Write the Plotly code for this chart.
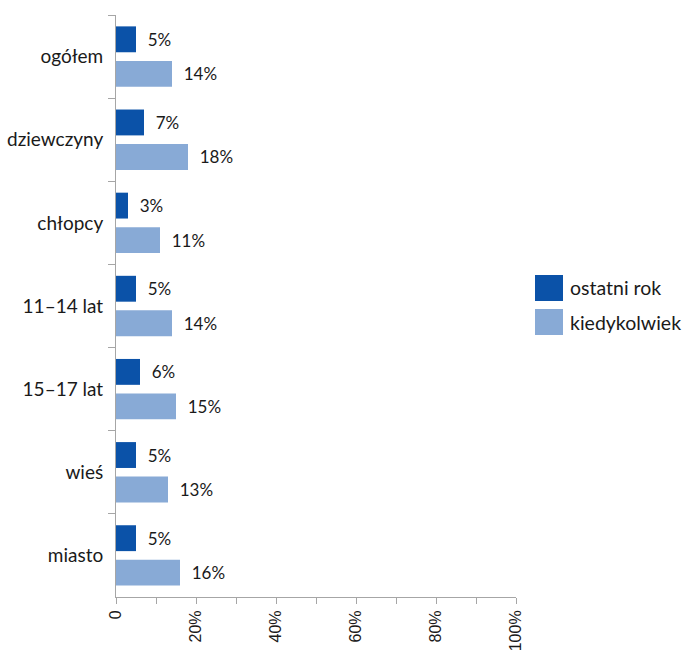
import plotly.graph_objects as go

categories = ["ogółem", "dziewczyny", "chłopcy", "11–14 lat", "15–17 lat", "wieś", "miasto"]
last_year = [5, 7, 3, 5, 6, 5, 5]
ever = [14, 18, 11, 14, 15, 13, 16]
series_names = ["ostatni rok", "kiedykolwiek"]
colors = ["#0B52A8", "#88AAD6"]
x_tickvals = [0, 20, 40, 60, 80, 100]
x_ticktext = ["0", "20%", "40%", "60%", "80%", "100%"]

fig = go.Figure()
for name, vals, col in zip(series_names, [last_year, ever], colors):
    fig.add_trace(go.Bar(
        y=categories, x=vals, orientation="h", name=name,
        marker=dict(color=col, line=dict(width=0)),
        texttemplate="  %{x}%", textposition="outside",
        textfont=dict(family="Lato", size=17, color="#1A1A1A"),
        cliponaxis=False, showlegend=False,
    ))

# legend drawn as paper shapes to match large square swatches
ys = [(0.5533, 0.5086), (0.4948, 0.4502)]
for (y1, y0), name, col in zip(ys, series_names, colors):
    fig.add_shape(type="rect", xref="paper", yref="paper", x0=1.0475, x1=1.1175,
                  y0=y0, y1=y1, fillcolor=col, line=dict(width=0))
    fig.add_annotation(xref="paper", yref="paper", x=1.13, y=(y0 + y1) / 2,
                       text=name, showarrow=False, xanchor="left", yanchor="middle",
                       font=dict(family="Lato", size=19.5, color="#1A1A1A"))

fig.update_layout(
    width=683, height=651,
    margin=dict(l=116, r=167, t=15, b=54),
    paper_bgcolor="white", plot_bgcolor="white",
    barmode="group", bargap=0.17, bargroupgap=0.25,
    xaxis=dict(range=[0, 100], tickvals=x_tickvals, ticktext=x_ticktext,
               tickangle=-90, ticks="outside", ticklen=6, tickcolor="#A6A6A6",
               minor=dict(dtick=10, ticks="outside", ticklen=6, tickcolor="#A6A6A6"),
               showline=True, linecolor="#A6A6A6", showgrid=False, zeroline=False,
               automargin=False,
               tickfont=dict(family="Liberation Sans", size=16, color="#1A1A1A")),
    yaxis=dict(autorange="reversed", ticks="outside", tickson="boundaries",
               ticklen=7, tickcolor="#A6A6A6", showline=True, linecolor="#A6A6A6",
               showgrid=False, ticklabelstandoff=8, automargin=False,
               tickfont=dict(family="Lato", size=19, color="#1A1A1A")),
)

fig.write_html("out.html", config={"displayModeBar": False},
               post_script="document.body.style.margin='0';")
